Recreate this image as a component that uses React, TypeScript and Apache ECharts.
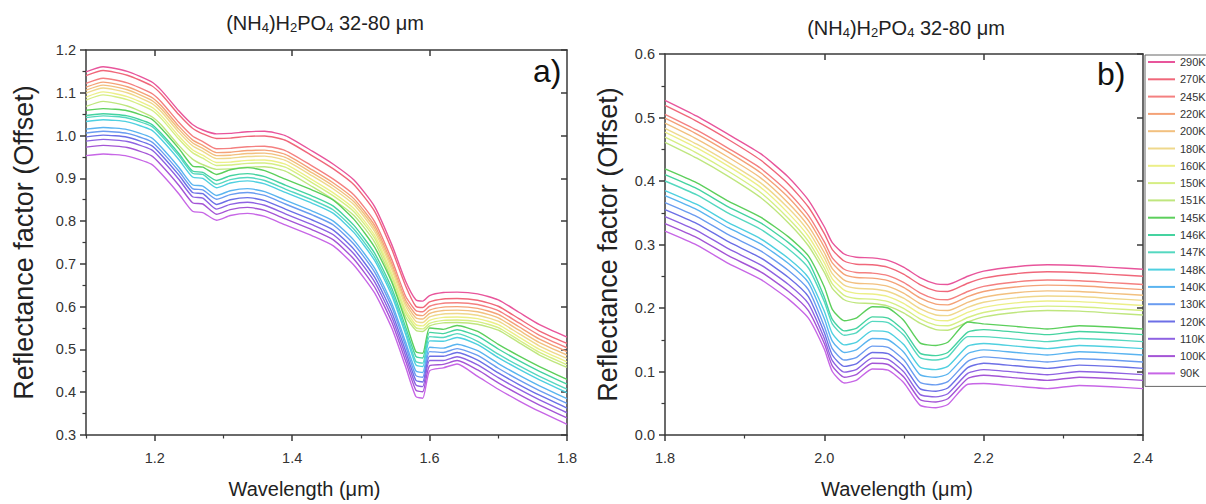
import React, { useEffect, useRef } from 'react';
import * as echarts from 'echarts';

const FONT = '"Liberation Sans", Arial, Helvetica, sans-serif';

const TEMPERATURES = ['290K', '270K', '245K', '220K', '200K', '180K', '160K', '150K', '151K', '145K', '146K', '147K', '148K', '140K', '130K', '120K', '110K', '100K', '90K'];
const LINE_COLORS = ['#e8559b', '#f0677a', '#f48080', '#f4a277', '#f2c07f', '#efd88c', '#ecef88', '#d6ee84', '#bfe67e', '#5ccf5c', '#45d3a0', '#55d8c0', '#4fd0e0', '#5ab4f0', '#6a9cf0', '#6c6fe6', '#8e62e2', '#a455d6', '#c766e6'];

// Panel a) wavelengths (µm)
const WAVELENGTH_A = [1.10, 1.125, 1.16, 1.195, 1.21, 1.235, 1.255, 1.27, 1.29, 1.31, 1.335, 1.36, 1.39, 1.43, 1.46, 1.49, 1.52, 1.545, 1.565, 1.58, 1.59, 1.60, 1.62, 1.64, 1.67, 1.70, 1.73, 1.76, 1.80];
const A_290K = [1.149, 1.161, 1.150, 1.126, 1.105, 1.058, 1.026, 1.013, 1.004, 1.005, 1.009, 1.010, 1.000, 0.963, 0.933, 0.896, 0.834, 0.745, 0.660, 0.616, 0.613, 0.626, 0.633, 0.634, 0.630, 0.616, 0.587, 0.558, 0.529];
const A_270K = [1.140, 1.152, 1.141, 1.117, 1.096, 1.049, 1.017, 1.004, 0.993, 0.994, 0.998, 0.999, 0.989, 0.952, 0.922, 0.885, 0.823, 0.734, 0.649, 0.601, 0.598, 0.611, 0.618, 0.619, 0.615, 0.601, 0.572, 0.543, 0.514];
const A_245K = [1.122, 1.134, 1.123, 1.099, 1.078, 1.031, 0.999, 0.986, 0.969, 0.970, 0.974, 0.975, 0.965, 0.928, 0.898, 0.861, 0.799, 0.710, 0.625, 0.591, 0.588, 0.601, 0.608, 0.609, 0.605, 0.591, 0.562, 0.533, 0.504];
const A_220K = [1.113, 1.125, 1.114, 1.090, 1.069, 1.022, 0.990, 0.977, 0.960, 0.961, 0.965, 0.966, 0.956, 0.919, 0.889, 0.852, 0.790, 0.701, 0.616, 0.582, 0.579, 0.592, 0.599, 0.600, 0.596, 0.582, 0.553, 0.524, 0.495];
const A_200K = [1.106, 1.118, 1.107, 1.083, 1.062, 1.015, 0.983, 0.970, 0.953, 0.954, 0.958, 0.959, 0.949, 0.912, 0.882, 0.845, 0.783, 0.694, 0.609, 0.574, 0.571, 0.584, 0.591, 0.592, 0.588, 0.574, 0.545, 0.516, 0.487];
const A_180K = [1.099, 1.111, 1.100, 1.076, 1.055, 1.008, 0.976, 0.963, 0.946, 0.947, 0.951, 0.952, 0.942, 0.905, 0.875, 0.838, 0.776, 0.687, 0.602, 0.566, 0.563, 0.576, 0.583, 0.584, 0.580, 0.566, 0.537, 0.508, 0.479];
const A_160K = [1.090, 1.102, 1.091, 1.067, 1.046, 0.999, 0.967, 0.954, 0.937, 0.938, 0.942, 0.943, 0.933, 0.896, 0.866, 0.829, 0.767, 0.678, 0.593, 0.558, 0.555, 0.568, 0.575, 0.576, 0.572, 0.558, 0.529, 0.500, 0.471];
const A_150K = [1.083, 1.095, 1.084, 1.060, 1.039, 0.992, 0.960, 0.947, 0.930, 0.931, 0.935, 0.936, 0.926, 0.889, 0.859, 0.822, 0.760, 0.671, 0.586, 0.551, 0.548, 0.561, 0.568, 0.569, 0.565, 0.551, 0.522, 0.493, 0.464];
const A_151K = [1.068, 1.080, 1.069, 1.045, 1.024, 0.977, 0.945, 0.932, 0.921, 0.922, 0.926, 0.927, 0.917, 0.880, 0.850, 0.813, 0.751, 0.662, 0.577, 0.545, 0.542, 0.555, 0.562, 0.563, 0.559, 0.545, 0.516, 0.487, 0.458];
const A_145K = [1.059, 1.063, 1.058, 1.039, 1.016, 0.970, 0.929, 0.926, 0.909, 0.920, 0.925, 0.918, 0.898, 0.872, 0.849, 0.804, 0.739, 0.657, 0.567, 0.495, 0.491, 0.550, 0.547, 0.556, 0.542, 0.512, 0.485, 0.460, 0.430];
const A_146K = [1.047, 1.051, 1.046, 1.027, 1.004, 0.958, 0.917, 0.914, 0.895, 0.906, 0.911, 0.904, 0.884, 0.858, 0.835, 0.790, 0.725, 0.643, 0.553, 0.484, 0.480, 0.540, 0.537, 0.546, 0.531, 0.501, 0.474, 0.449, 0.419];
const A_147K = [1.042, 1.046, 1.041, 1.022, 0.999, 0.953, 0.912, 0.909, 0.886, 0.897, 0.902, 0.895, 0.875, 0.849, 0.826, 0.781, 0.716, 0.634, 0.544, 0.472, 0.468, 0.530, 0.528, 0.537, 0.519, 0.489, 0.462, 0.437, 0.407];
const A_148K = [1.033, 1.037, 1.032, 1.013, 0.990, 0.944, 0.903, 0.900, 0.878, 0.889, 0.894, 0.887, 0.867, 0.841, 0.818, 0.773, 0.708, 0.626, 0.536, 0.464, 0.460, 0.520, 0.519, 0.528, 0.511, 0.481, 0.454, 0.429, 0.399];
const A_140K = [1.015, 1.019, 1.014, 0.995, 0.972, 0.926, 0.885, 0.882, 0.860, 0.871, 0.876, 0.869, 0.849, 0.823, 0.800, 0.755, 0.690, 0.608, 0.518, 0.450, 0.446, 0.505, 0.503, 0.512, 0.497, 0.467, 0.440, 0.415, 0.385];
const A_130K = [1.006, 1.010, 1.005, 0.986, 0.963, 0.917, 0.876, 0.873, 0.851, 0.862, 0.867, 0.860, 0.840, 0.814, 0.791, 0.746, 0.681, 0.599, 0.509, 0.439, 0.435, 0.495, 0.493, 0.502, 0.486, 0.456, 0.429, 0.404, 0.374];
const A_120K = [0.997, 1.001, 0.996, 0.977, 0.954, 0.908, 0.867, 0.864, 0.839, 0.850, 0.855, 0.848, 0.828, 0.802, 0.779, 0.734, 0.669, 0.587, 0.497, 0.428, 0.424, 0.484, 0.484, 0.493, 0.475, 0.445, 0.418, 0.393, 0.363];
const A_110K = [0.987, 0.991, 0.986, 0.967, 0.944, 0.898, 0.857, 0.854, 0.828, 0.839, 0.844, 0.837, 0.817, 0.791, 0.768, 0.723, 0.658, 0.576, 0.486, 0.417, 0.413, 0.474, 0.474, 0.483, 0.464, 0.434, 0.407, 0.382, 0.352];
const A_100K = [0.973, 0.977, 0.972, 0.953, 0.930, 0.884, 0.843, 0.840, 0.816, 0.827, 0.832, 0.825, 0.805, 0.779, 0.756, 0.711, 0.646, 0.564, 0.474, 0.405, 0.401, 0.462, 0.465, 0.474, 0.452, 0.422, 0.395, 0.370, 0.340];
const A_90K = [0.953, 0.957, 0.952, 0.933, 0.910, 0.864, 0.823, 0.820, 0.802, 0.813, 0.818, 0.811, 0.791, 0.765, 0.742, 0.697, 0.632, 0.550, 0.460, 0.390, 0.386, 0.450, 0.457, 0.466, 0.437, 0.407, 0.380, 0.355, 0.325];

// Panel b) wavelengths (µm)
const WAVELENGTH_B = [1.80, 1.84, 1.88, 1.92, 1.955, 1.98, 2.00, 2.01, 2.025, 2.04, 2.06, 2.08, 2.10, 2.12, 2.14, 2.155, 2.18, 2.20, 2.24, 2.28, 2.32, 2.36, 2.40];
const B_290K = [0.527, 0.502, 0.473, 0.443, 0.406, 0.370, 0.328, 0.303, 0.285, 0.280, 0.279, 0.275, 0.264, 0.248, 0.238, 0.237, 0.250, 0.258, 0.265, 0.268, 0.267, 0.264, 0.261];
const B_270K = [0.519, 0.494, 0.465, 0.433, 0.395, 0.359, 0.317, 0.292, 0.274, 0.269, 0.268, 0.264, 0.253, 0.237, 0.227, 0.226, 0.239, 0.247, 0.254, 0.257, 0.256, 0.253, 0.250];
const B_245K = [0.505, 0.480, 0.451, 0.420, 0.382, 0.346, 0.304, 0.279, 0.261, 0.256, 0.255, 0.251, 0.240, 0.224, 0.214, 0.213, 0.226, 0.234, 0.241, 0.244, 0.243, 0.240, 0.237];
const B_220K = [0.499, 0.474, 0.445, 0.413, 0.374, 0.338, 0.296, 0.271, 0.253, 0.248, 0.247, 0.243, 0.232, 0.216, 0.206, 0.205, 0.218, 0.226, 0.233, 0.236, 0.235, 0.232, 0.229];
const B_200K = [0.491, 0.466, 0.437, 0.405, 0.365, 0.329, 0.287, 0.262, 0.244, 0.239, 0.238, 0.234, 0.223, 0.207, 0.197, 0.196, 0.209, 0.217, 0.224, 0.227, 0.226, 0.223, 0.220];
const B_180K = [0.483, 0.458, 0.429, 0.397, 0.357, 0.321, 0.279, 0.254, 0.236, 0.231, 0.230, 0.226, 0.215, 0.199, 0.189, 0.188, 0.201, 0.209, 0.216, 0.219, 0.218, 0.215, 0.212];
const B_160K = [0.477, 0.452, 0.423, 0.390, 0.349, 0.313, 0.271, 0.246, 0.228, 0.223, 0.222, 0.218, 0.207, 0.191, 0.181, 0.180, 0.193, 0.201, 0.208, 0.211, 0.210, 0.207, 0.204];
const B_150K = [0.469, 0.444, 0.415, 0.382, 0.341, 0.305, 0.263, 0.238, 0.220, 0.215, 0.214, 0.210, 0.199, 0.183, 0.173, 0.172, 0.185, 0.193, 0.200, 0.203, 0.202, 0.199, 0.196];
const B_151K = [0.461, 0.436, 0.407, 0.374, 0.334, 0.298, 0.256, 0.231, 0.213, 0.208, 0.207, 0.203, 0.192, 0.176, 0.166, 0.165, 0.178, 0.186, 0.193, 0.196, 0.195, 0.192, 0.189];
const B_145K = [0.419, 0.397, 0.368, 0.343, 0.312, 0.282, 0.233, 0.198, 0.180, 0.184, 0.202, 0.200, 0.180, 0.145, 0.141, 0.146, 0.178, 0.175, 0.171, 0.167, 0.172, 0.170, 0.167];
const B_146K = [0.410, 0.388, 0.359, 0.334, 0.303, 0.273, 0.217, 0.182, 0.164, 0.168, 0.186, 0.184, 0.164, 0.129, 0.125, 0.130, 0.162, 0.166, 0.162, 0.158, 0.163, 0.161, 0.158];
const B_147K = [0.400, 0.378, 0.349, 0.324, 0.293, 0.263, 0.210, 0.175, 0.157, 0.161, 0.179, 0.177, 0.157, 0.122, 0.118, 0.123, 0.155, 0.155, 0.151, 0.147, 0.152, 0.150, 0.147];
const B_148K = [0.385, 0.363, 0.334, 0.309, 0.278, 0.248, 0.195, 0.160, 0.142, 0.146, 0.164, 0.162, 0.142, 0.107, 0.103, 0.108, 0.140, 0.144, 0.140, 0.136, 0.141, 0.139, 0.136];
const B_140K = [0.377, 0.355, 0.326, 0.301, 0.270, 0.240, 0.183, 0.148, 0.130, 0.134, 0.152, 0.150, 0.130, 0.095, 0.091, 0.096, 0.128, 0.134, 0.130, 0.126, 0.131, 0.129, 0.126];
const B_130K = [0.366, 0.344, 0.315, 0.290, 0.259, 0.229, 0.171, 0.136, 0.118, 0.122, 0.140, 0.138, 0.118, 0.083, 0.079, 0.084, 0.116, 0.123, 0.119, 0.115, 0.120, 0.118, 0.115];
const B_120K = [0.355, 0.333, 0.304, 0.279, 0.248, 0.218, 0.161, 0.126, 0.108, 0.112, 0.130, 0.128, 0.108, 0.073, 0.069, 0.074, 0.106, 0.113, 0.109, 0.105, 0.110, 0.108, 0.105];
const B_110K = [0.344, 0.322, 0.293, 0.268, 0.237, 0.207, 0.152, 0.117, 0.099, 0.103, 0.121, 0.119, 0.099, 0.064, 0.060, 0.065, 0.097, 0.103, 0.099, 0.095, 0.100, 0.098, 0.095];
const B_100K = [0.333, 0.311, 0.282, 0.257, 0.226, 0.196, 0.144, 0.109, 0.091, 0.095, 0.113, 0.111, 0.091, 0.056, 0.052, 0.057, 0.089, 0.094, 0.090, 0.086, 0.091, 0.089, 0.086];
const B_90K = [0.321, 0.299, 0.270, 0.245, 0.214, 0.184, 0.135, 0.100, 0.082, 0.086, 0.104, 0.102, 0.082, 0.047, 0.043, 0.048, 0.080, 0.081, 0.077, 0.073, 0.078, 0.076, 0.073];

const PANEL_A = [A_290K, A_270K, A_245K, A_220K, A_200K, A_180K, A_160K, A_150K, A_151K, A_145K, A_146K, A_147K, A_148K, A_140K, A_130K, A_120K, A_110K, A_100K, A_90K];
const PANEL_B = [B_290K, B_270K, B_245K, B_220K, B_200K, B_180K, B_160K, B_150K, B_151K, B_145K, B_146K, B_147K, B_148K, B_140K, B_130K, B_120K, B_110K, B_100K, B_90K];

const TICKS_A_MAJOR = [1.2, 1.4, 1.6, 1.8];
const TICKS_A_MINOR = [1.1, 1.3, 1.5, 1.7];
const TICKS_A_TOP = [1.2, 1.4, 1.6];
const TICKS_B_MAJOR = [1.8, 2.0, 2.2, 2.4];
const TICKS_B_MINOR = [1.9, 2.1, 2.3];
const TICKS_B_TOP = [2.0, 2.2];

const TITLE_RICH = '{n|(NH}{s|4}{n|)H}{s|2}{n|PO}{s|4}{n| 32-80 μm}';

const AXIS_COLOR = '#3a3a3a';

function bottomAxis(grid: number, min: number, max: number, major: number[], shift: number) {
  return {
    type: 'value', gridIndex: grid, position: 'bottom', min, max,
    name: 'Wavelength (μm)', nameLocation: 'middle', nameGap: 44,
    nameTextStyle: { fontSize: 20, color: '#222', fontFamily: FONT, padding: [0, shift, 0, 0] },
    axisLine: { show: true, lineStyle: { color: AXIS_COLOR, width: 1.5 } },
    axisTick: { show: true, customValues: major, length: 6, lineStyle: { color: AXIS_COLOR, width: 1.5 } },
    axisLabel: { show: true, customValues: major, formatter: (v: number) => v.toFixed(1), margin: 15, fontSize: 14.5, color: '#333', fontFamily: FONT },
    splitLine: { show: false },
  };
}
function minorAxis(grid: number, min: number, max: number, minor: number[]) {
  return {
    type: 'value', gridIndex: grid, position: 'bottom', min, max,
    axisLine: { show: false },
    axisTick: { show: true, customValues: minor, length: 3.5, lineStyle: { color: AXIS_COLOR, width: 1.2 } },
    axisLabel: { show: false },
    splitLine: { show: false },
  };
}
function topAxis(grid: number, min: number, max: number, ticks: number[]) {
  return {
    type: 'value', gridIndex: grid, position: 'top', min, max,
    axisLine: { show: true, lineStyle: { color: AXIS_COLOR, width: 1.5 } },
    axisTick: { show: true, inside: true, customValues: ticks, length: 6, lineStyle: { color: AXIS_COLOR, width: 1.5 } },
    axisLabel: { show: false },
    splitLine: { show: false },
  };
}
function leftAxis(grid: number, min: number, max: number, nameGap: number) {
  return {
    type: 'value', gridIndex: grid, position: 'left', min, max, interval: 0.1,
    name: 'Reflectance factor (Offset)', nameLocation: 'middle', nameGap,
    nameTextStyle: { fontSize: 27, color: '#222', fontFamily: FONT },
    axisLine: { show: true, lineStyle: { color: AXIS_COLOR, width: 1.5 } },
    axisTick: { show: true, length: 6, lineStyle: { color: AXIS_COLOR, width: 1.5 } },
    minorTick: { show: true, splitNumber: 2, length: 3.5, lineStyle: { color: AXIS_COLOR, width: 1.2 } },
    axisLabel: { formatter: (v: number) => v.toFixed(1), margin: 10, fontSize: 14.5, color: '#333', fontFamily: FONT },
    splitLine: { show: false },
  };
}
function rightAxis(grid: number, min: number, max: number) {
  return {
    type: 'value', gridIndex: grid, position: 'right', min, max, interval: 0.1,
    axisLine: { show: true, lineStyle: { color: AXIS_COLOR, width: 1.5 } },
    axisTick: { show: true, inside: true, length: 6, lineStyle: { color: AXIS_COLOR, width: 1.5 } },
    axisLabel: { show: false },
    splitLine: { show: false },
  };
}

export default function App() {
  const ref = useRef<HTMLDivElement>(null);
  useEffect(() => {
    if (!ref.current) return;
    const chart = echarts.init(ref.current, undefined, { renderer: 'svg' });
    const series: any[] = [];
    TEMPERATURES.forEach((name, i) => {
      const common = {
        type: 'line', name, symbol: 'none', smooth: 0.2,
        lineStyle: { width: 1.4, color: LINE_COLORS[i] },
        itemStyle: { color: LINE_COLORS[i] },
      };
      series.push({ ...common, xAxisIndex: 0, yAxisIndex: 0, data: WAVELENGTH_A.map((x, k) => [x, PANEL_A[i][k]]) });
      series.push({ ...common, xAxisIndex: 3, yAxisIndex: 2, data: WAVELENGTH_B.map((x, k) => [x, PANEL_B[i][k]]) });
    });
    const titleRich = {
      n: { fontSize: 20, fontWeight: 'normal', color: '#222', fontFamily: FONT },
      s: { fontSize: 13, fontWeight: 'normal', color: '#222', fontFamily: FONT, padding: [10, 0, 0, 0] },
    };
    chart.setOption({
      animation: false,
      backgroundColor: '#ffffff',
      title: [
        { text: TITLE_RICH, left: 320, top: 6, textAlign: 'center', textStyle: { fontWeight: 'normal', rich: titleRich } },
        { text: TITLE_RICH, left: 901, top: 11, textAlign: 'center', textStyle: { fontWeight: 'normal', rich: titleRich } },
      ],
      legend: {
        data: TEMPERATURES, orient: 'vertical', left: 1145, top: 55,
        itemWidth: 27, itemHeight: 12, itemGap: 5.3, padding: [1, 2, 7, 2],
        borderColor: '#666', borderWidth: 1, selectedMode: false,
        itemStyle: { opacity: 0 },
        textStyle: { fontSize: 11, lineHeight: 12, color: '#333', fontFamily: FONT },
      },
      grid: [
        { left: 86, top: 50, width: 481, height: 389 },
        { left: 665, top: 54, width: 478, height: 385 },
      ],
      xAxis: [
        bottomAxis(0, 1.1, 1.8, TICKS_A_MAJOR, 44),
        minorAxis(0, 1.1, 1.8, TICKS_A_MINOR),
        topAxis(0, 1.1, 1.8, TICKS_A_TOP),
        bottomAxis(1, 1.8, 2.4, TICKS_B_MAJOR, 14),
        minorAxis(1, 1.8, 2.4, TICKS_B_MINOR),
        topAxis(1, 1.8, 2.4, TICKS_B_TOP),
      ],
      yAxis: [
        leftAxis(0, 0.3, 1.2, 49),
        rightAxis(0, 0.3, 1.2),
        leftAxis(1, 0, 0.6, 44),
        rightAxis(1, 0, 0.6),
      ],
      graphic: [
        { type: 'text', left: 533, top: 55, style: { text: 'a)', fontSize: 32, fill: '#111', fontFamily: FONT } },
        { type: 'text', left: 1097, top: 58, style: { text: 'b)', fontSize: 32, fill: '#111', fontFamily: FONT } },
      ],
      series,
    });
    return () => chart.dispose();
  }, []);
  return <div ref={ref} style={{ position: 'fixed', left: 0, top: 0, width: 1206, height: 504, background: '#fff' }} />;
}
